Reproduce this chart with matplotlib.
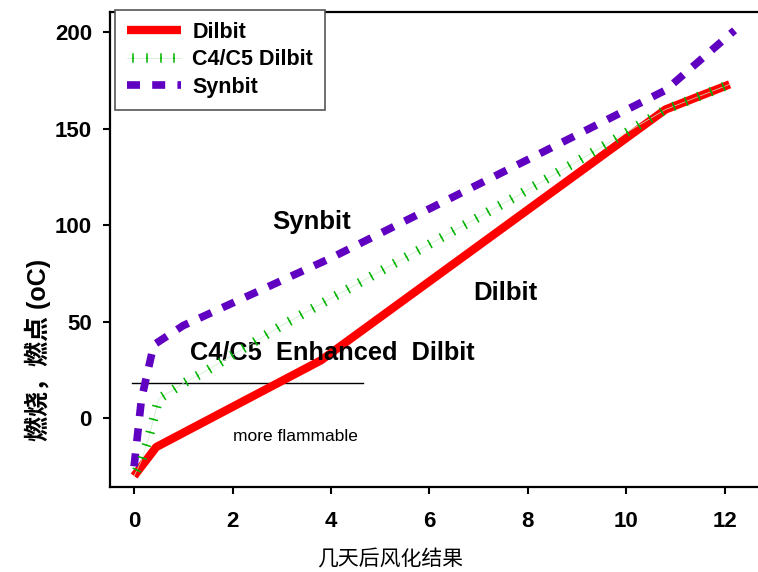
import numpy as np
import matplotlib
matplotlib.use("Agg")
import matplotlib.pyplot as plt
import matplotlib.patheffects as pe

plt.rcParams['font.family'] = ['Liberation Sans', 'Noto Sans CJK SC', 'DejaVu Sans']

# data
dilbit_x = [0, 0.45, 3.8, 10.8, 12.1]
dilbit_y = [-30, -15, 30, 160, 173]

c4c5_x = [0, 0.15, 0.3, 0.5, 1.0, 1.5, 3.0, 7.7, 9.2, 10.8, 12.1]
c4c5_y = [-30, -22, -10, 10, 18, 25, 48, 114, 136, 160, 173]

synbit_x = [0, 0.15, 0.4, 1.0, 4.0, 8.0, 10.8, 12.2]
synbit_y = [-25, 10, 38, 48, 83, 134, 170, 201]

flam_x = [-0.04, 4.65]
flam_y = [18, 18]

xticks = [0, 2, 4, 6, 8, 10, 12]
yticks = [0, 50, 100, 150, 200]

fig = plt.figure(figsize=(7.58, 5.72), dpi=100)
ax = fig.add_axes([0.1451, 0.1486, 0.8694, 0.8304])

ax.plot(dilbit_x, dilbit_y, color='#ff0000', lw=6, solid_capstyle='butt',
        label='Dilbit', zorder=3)
ax.plot(synbit_x, synbit_y, color='#6000c0', lw=5.5, linestyle=(0, (1.7, 1.6)),
        label='Synbit', zorder=4)
green = '#00b400'
ax.plot(c4c5_x, c4c5_y, color='#c8ecc8', lw=0.5, label='C4/C5 Dilbit', zorder=5,
        path_effects=[pe.Normal(),
                      pe.TickedStroke(spacing=9.5, angle=90, length=0.3, linewidth=1.1, foreground=green),
                      pe.TickedStroke(spacing=9.5, angle=-90, length=0.3, linewidth=1.1, foreground=green)])

ax.plot(flam_x, flam_y, color='black', lw=1, zorder=2)

ax.text(3.27, -9.3, 'more flammable', fontsize=12.5, ha='center', va='center')
ax.text(3.6, 101.5, 'Synbit', fontsize=18.5, fontweight='bold', ha='center', va='center')
ax.text(7.55, 65, 'Dilbit', fontsize=18.5, fontweight='bold', ha='center', va='center')
ax.text(4.02, 34, 'C4/C5  Enhanced  Dilbit', fontsize=18.3, fontweight='bold',
        ha='center', va='center')

ax.set_xlim(-0.49, 12.9)
ax.set_ylim(-35.7, 210.5)
ax.set_xticks(xticks)
ax.set_yticks(yticks)
ax.tick_params(direction='out', length=5, width=1.5, labelsize=16)
for lab in ax.get_xticklabels() + ax.get_yticklabels():
    lab.set_fontweight('bold')
ax.tick_params(axis='x', pad=12)
ax.tick_params(axis='y', pad=8)
for s in ['left', 'bottom', 'top', 'right']:
    ax.spines[s].set_linewidth(1.6)

ax.set_xlabel('几天后风化结果', fontsize=15, family=['Noto Sans CJK SC'], va='center')
ax.xaxis.set_label_coords(0.425, -0.152)
ax.set_ylabel('燃烧，燃点 (oC)', fontsize=18, fontweight='bold')
ax.yaxis.set_label_coords(-0.09, 0.288)

handles, labels = ax.get_legend_handles_labels()
order = [0, 2, 1]
leg = ax.legend([handles[i] for i in order], [labels[i] for i in order],
                loc='upper left', bbox_to_anchor=(0.0076, 1.004), borderaxespad=0,
                prop={'weight': 'bold', 'size': 15.5}, fancybox=False,
                edgecolor='#555555', framealpha=1, handlelength=2.5,
                borderpad=0.55, labelspacing=0.3, handletextpad=0.55)
leg.get_frame().set_linewidth(1.2)
leg.set_zorder(10)

fig.savefig('out.png', dpi=100)
